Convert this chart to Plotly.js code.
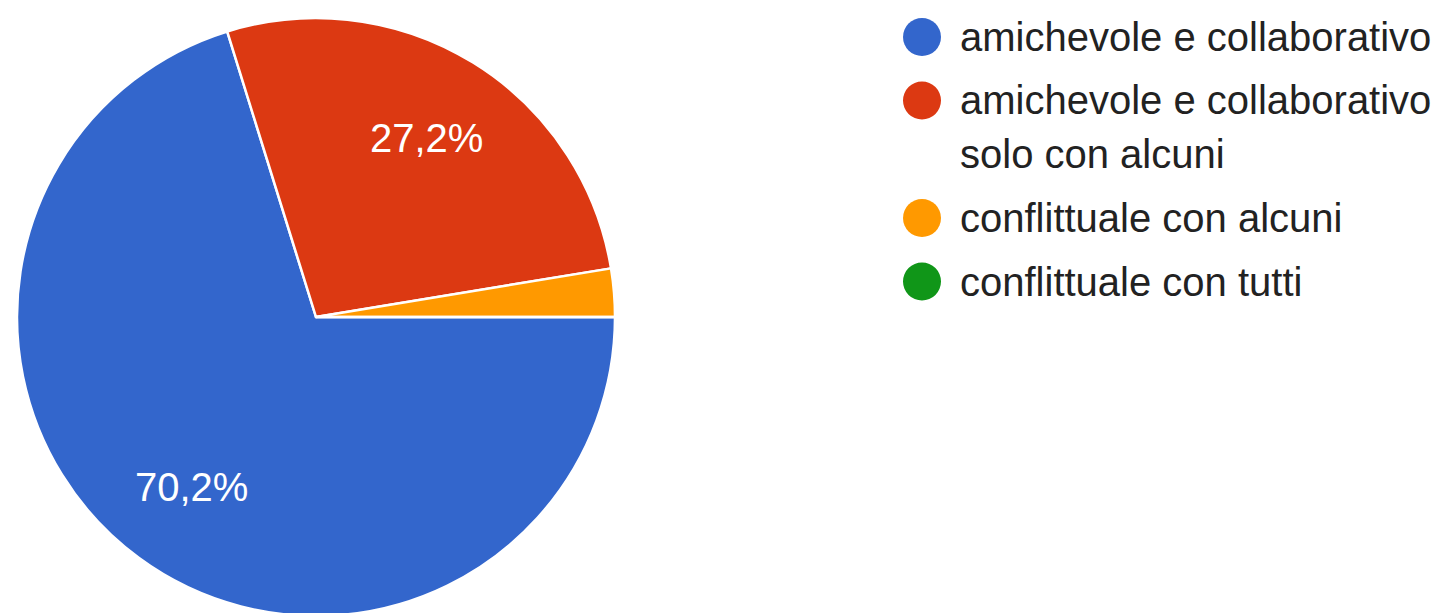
<!DOCTYPE html>
<html>
<head>
<meta charset="utf-8">
<script src="https://cdn.plot.ly/plotly-3.0.1.min.js"></script>
<style>
html,body{margin:0;padding:0;overflow:hidden;background:#fff;}
#chart{width:1440px;height:626px;}
</style>
</head>
<body>
<div id="chart"></div>
<script>
const categories = ["amichevole e collaborativo", "amichevole e collaborativo<br>solo con alcuni", "conflittuale con alcuni", "conflittuale con tutti"];
const values = [70.2, 27.2, 2.6, 0];
const colors = ["#3366cc", "#dc3912", "#ff9900", "#109618"];
const showLabel = [true, true, false, false];

const W = 1440, H = 626;
const fontFamily = "Arial, 'Liberation Sans', sans-serif";
const fontSize = 40;

const shapes = [];
const annotations = [];
let y = 37;
categories.forEach((c, i) => {
  const lines = c.split("<br>");
  const r = 19, cx = 922;
  shapes.push({type: "circle", xref: "paper", yref: "paper",
    x0: (cx - r) / W, x1: (cx + r) / W, y0: (H - (y + r)) / H, y1: (H - (y - r)) / H,
    fillcolor: colors[i], line: {width: 0}});
  lines.forEach((ln, k) => {
    annotations.push({xref: "paper", yref: "paper", x: 958 / W, y: (H - y) / H,
      xanchor: "left", yanchor: "middle", showarrow: false, text: ln,
      font: {family: fontFamily, size: fontSize, color: "#222222"}});
    if (k < lines.length - 1) y += 54;
  });
  y += 63.5;
});

// pie geometry (pixels)
const pcx = 316, pcy = 317, prad = 299;
const domain = {x: [(pcx - prad) / W, (pcx + prad) / W], y: [(H - (pcy + prad)) / H, (H - (pcy - prad)) / H]};

// percentage labels at 0.7 radius along each slice's mid angle (clockwise from 3 o'clock)
const total = values.reduce((a, b) => a + b, 0);
let acc = 0;
values.forEach((v, i) => {
  const start = acc / total * 2 * Math.PI;
  acc += v;
  const end = acc / total * 2 * Math.PI;
  if (!showLabel[i]) return;
  const mid = (start + end) / 2;
  const px = pcx + 0.705 * prad * Math.cos(mid);
  const py = pcy + 0.705 * prad * Math.sin(mid);
  annotations.push({xref: "paper", yref: "paper", x: px / W, y: (H - py) / H,
    xanchor: "center", yanchor: "middle", showarrow: false,
    text: (v / total * 100).toFixed(1).replace(".", ",") + "%",
    font: {family: fontFamily, size: fontSize, color: "#ffffff"}});
});

const trace = {
  type: "pie",
  labels: categories,
  values: values,
  sort: false,
  direction: "clockwise",
  rotation: 90,
  marker: {colors: colors, line: {color: "#ffffff", width: 2.5}},
  textinfo: "none",
  hoverinfo: "none",
  showlegend: false,
  domain: domain
};

Plotly.newPlot("chart", [trace], {
  width: W, height: H,
  margin: {l: 0, r: 0, t: 0, b: 0},
  paper_bgcolor: "#ffffff",
  separators: ",.",
  showlegend: false,
  shapes: shapes,
  annotations: annotations
}, {displayModeBar: false, staticPlot: true});
</script>
</body>
</html>
